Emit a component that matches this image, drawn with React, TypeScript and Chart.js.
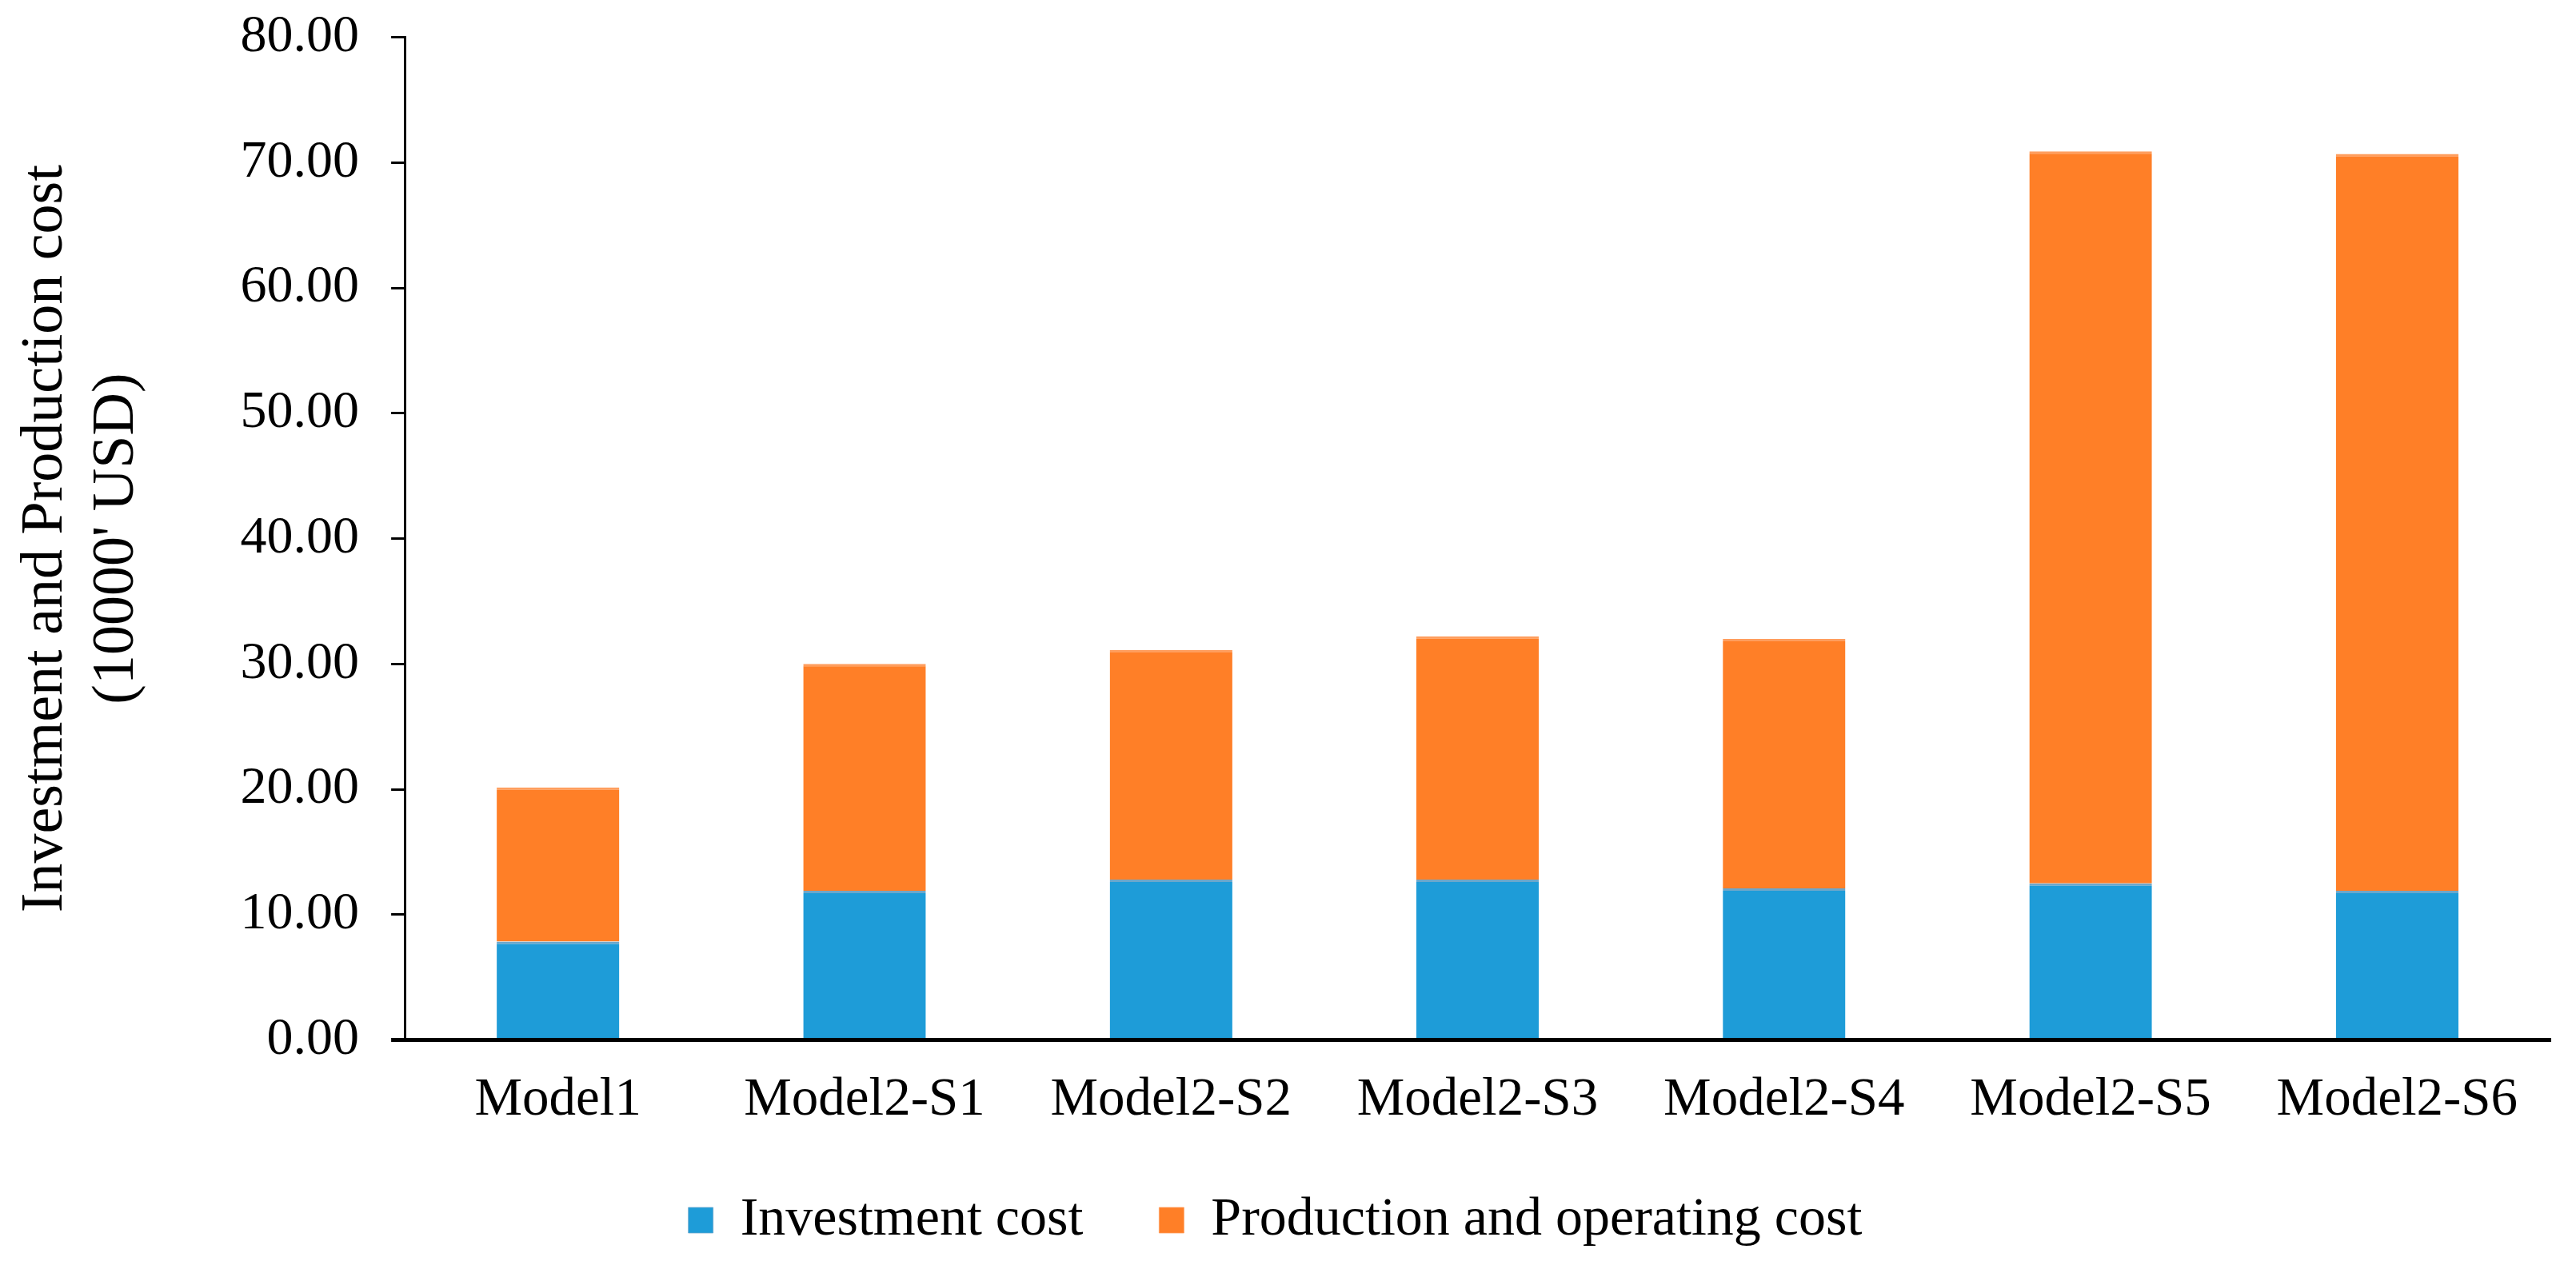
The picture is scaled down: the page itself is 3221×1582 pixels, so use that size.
import React, { useEffect, useRef } from 'react';
import { Chart, ChartConfiguration, registerables } from 'chart.js';

Chart.register(...registerables);

const categories = ['Model1', 'Model2-S1', 'Model2-S2', 'Model2-S3', 'Model2-S4', 'Model2-S5', 'Model2-S6'];
const investmentCost = [7.85, 11.9, 12.8, 12.8, 12.1, 12.5, 11.9];
const productionCost = [12.3, 18.1, 18.3, 19.4, 19.9, 58.4, 58.8];
const yTicks = [0, 10, 20, 30, 40, 50, 60, 70, 80];

const serif = "'Liberation Serif', 'Times New Roman', serif";

const CostChart: React.FC = () => {
  const canvasRef = useRef<HTMLCanvasElement | null>(null);
  const chartRef = useRef<Chart | null>(null);

  useEffect(() => {
    if (!canvasRef.current) return;

    const config: ChartConfiguration = {
      type: 'bar',
      data: {
        labels: categories,
        datasets: [
          {
            label: 'Investment cost',
            data: investmentCost,
            backgroundColor: '#1E9CD8',
            borderColor: '#6CA7CB',
            borderWidth: { top: 3, left: 0, right: 0, bottom: 0 },
            borderSkipped: false,
            barPercentage: 0.4,
            categoryPercentage: 1
          },
          {
            label: 'Production and operating cost',
            data: productionCost,
            backgroundColor: '#FF7F27',
            borderColor: '#FF9E5E',
            borderWidth: { top: 3, left: 0, right: 0, bottom: 0 },
            borderSkipped: false,
            barPercentage: 0.4,
            categoryPercentage: 1
          }
        ]
      },
      options: {
        animation: false,
        responsive: true,
        maintainAspectRatio: false,
        layout: { padding: { left: 0, right: 32, top: 0, bottom: 12 } },
        plugins: {
          tooltip: { enabled: false },
          legend: {
            position: 'bottom',
            labels: {
              boxWidth: 31,
              boxHeight: 32,
              padding: 95,
              color: '#000',
              font: { family: serif, size: 68 }
            }
          }
        },
        scales: {
          x: {
            stacked: true,
            // transparent ticks only push the labels down
            grid: {
              display: true,
              drawOnChartArea: false,
              drawTicks: true,
              tickLength: 55,
              tickColor: 'rgba(0,0,0,0)'
            },
            border: { display: true, color: '#000', width: 5 },
            ticks: {
              color: '#000',
              padding: 14,
              font: { family: serif, size: 67, lineHeight: 0.2 }
            }
          },
          y: {
            stacked: true,
            min: yTicks[0],
            max: yTicks[yTicks.length - 1],
            afterBuildTicks: (scale) => {
              scale.ticks = yTicks.map((v) => ({ value: v }));
            },
            grid: {
              drawOnChartArea: false,
              drawTicks: true,
              tickLength: 17,
              color: '#000',
              lineWidth: (ctx) => (ctx.tick && ctx.tick.value === 0 ? 5 : 3)
            },
            border: { display: true, color: '#000', width: 3 },
            ticks: {
              color: '#000',
              padding: 40,
              font: { family: serif, size: 66, lineHeight: 0.2 },
              callback: (value) => Number(value).toFixed(2)
            },
            title: {
              display: true,
              text: ['Investment and Production cost', "(10000' USD)"],
              color: '#000',
              font: { family: serif, size: 74 },
              padding: { top: 13, bottom: 70 }
            }
          }
        }
      }
    };

    chartRef.current = new Chart(canvasRef.current, config);

    return () => {
      if (chartRef.current) {
        chartRef.current.destroy();
        chartRef.current = null;
      }
    };
  }, []);

  return <canvas ref={canvasRef} />;
};

export default function App() {
  return (
    <div style={{ position: 'fixed', left: 0, top: 0, width: 3221, height: 1582, background: '#fff' }}>
      <CostChart />
    </div>
  );
}
